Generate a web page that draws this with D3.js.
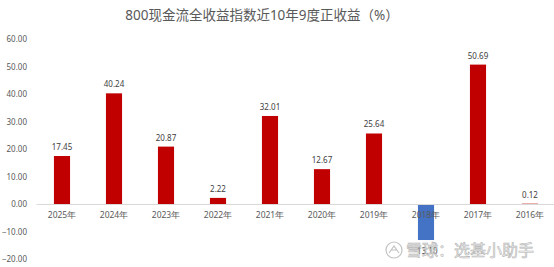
<!DOCTYPE html>
<html>
<head>
<meta charset="utf-8">
<script src="https://cdn.jsdelivr.net/npm/d3@7"></script>
<style>
  body { margin: 0; background: #fff; }
  svg { display: block; font-family: "Noto Sans", "Noto Sans CJK SC", sans-serif; }
</style>
</head>
<body>
<div id="chart"></div>
<script>
var years = ["2025年","2024年","2023年","2022年","2021年","2020年","2019年","2018年","2017年","2016年"];
var returns = [17.45, 40.24, 20.87, 2.22, 32.01, 12.67, 25.64, -13.10, 50.69, 0.12];
var yTicks = [60, 50, 40, 30, 20, 10, 0, -10, -20];

var width = 554, height = 267;

var svg = d3.select("#chart").append("svg")
  .attr("width", width)
  .attr("height", height);

var x = d3.scaleBand()
  .domain(years)
  .range([36, 556])
  .paddingInner(0.69)
  .paddingOuter(0.345);

var y = d3.scaleLinear()
  .domain([-20, 60])
  .range([259, 39]);

// title
svg.append("text")
  .attr("x", 262)
  .attr("y", 20)
  .attr("text-anchor", "middle")
  .attr("font-size", "13.5px")
  .attr("fill", "#595959")
  .text("800现金流全收益指数近10年9度正收益（%）");

// y axis labels only
var yAxis = d3.axisLeft(y).tickValues(yTicks).tickFormat(d3.format(".2f")).tickSize(0).tickPadding(0);
var gy = svg.append("g").attr("transform", "translate(27,0)").call(yAxis);
gy.select(".domain").remove();
gy.selectAll("text").attr("font-size", "8px").attr("fill", "#595959")
  .attr("font-family", "Noto Sans");

// bars
svg.selectAll("rect.bar")
  .data(returns)
  .enter().append("rect")
    .attr("class", "bar")
    .attr("x", function(d, i) { return x(years[i]); })
    .attr("width", x.bandwidth())
    .attr("y", function(d) { return y(Math.max(0, d)); })
    .attr("height", function(d) { return Math.abs(y(d) - y(0)); })
    .attr("fill", function(d) { return d < 0 ? "#4472C4" : "#C00000"; });

// x axis at zero
var xAxis = d3.axisBottom(x).tickSize(0).tickPadding(8);
var gx = svg.append("g").attr("transform", "translate(0," + y(0) + ")").call(xAxis);
gx.select(".domain").attr("stroke", "#d9d9d9").attr("stroke-width", 1);
gx.selectAll("text").attr("font-size", "8.5px").attr("fill", "#595959")
  .attr("font-family", "Noto Sans");

// value labels
svg.selectAll("text.val")
  .data(returns)
  .enter().append("text")
    .attr("class", "val")
    .attr("x", function(d, i) { return x(years[i]) + x.bandwidth() / 2; })
    .attr("y", function(d) { return d < 0 ? y(d) + 14 : y(d) - 6; })
    .attr("text-anchor", "middle")
    .attr("font-size", "8px")
    .attr("fill", "#404040")
    .text(function(d) { return d.toFixed(2); });

// watermark
var wm = svg.append("g").attr("opacity", 0.85);
wm.append("circle")
  .attr("cx", 394).attr("cy", 250).attr("r", 8)
  .attr("fill", "none").attr("stroke", "#b8b8b8").attr("stroke-width", 1.2);
wm.append("path")
  .attr("d", "M389,253 L394,246 L399,253 M391,250 L397,250")
  .attr("fill", "none").attr("stroke", "#b8b8b8").attr("stroke-width", 1.2);
wm.append("text")
  .attr("x", 406).attr("y", 256)
  .attr("font-size", "16px")
  .attr("fill", "#f2f2f2")
  .attr("stroke", "#a8a8a8")
  .attr("stroke-width", 0.6)
  .text("雪球：选基小助手");
</script>
</body>
</html>
